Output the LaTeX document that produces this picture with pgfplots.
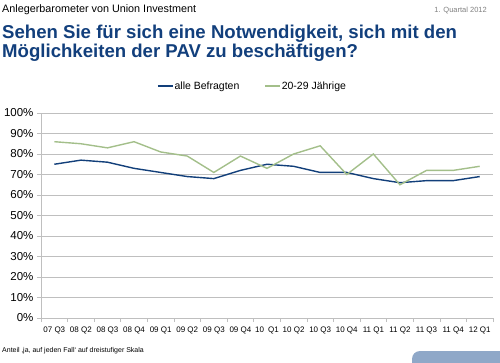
\documentclass[border=0pt]{standalone}
\usepackage{pgfplots}
\pgfplotsset{compat=1.18}
\usepackage{fontspec}
\setmainfont{Liberation Sans}
\definecolor{titleblue}{HTML}{123F7C}
\definecolor{lineblue}{HTML}{123F7A}
\definecolor{linegreen}{HTML}{A3BF8A}
\definecolor{gridgray}{HTML}{BFBFBF}
\definecolor{boxblue}{HTML}{8FA8C8}
\begin{document}
\begin{tikzpicture}
\path[use as bounding box] (0pt,0pt) rectangle (500pt,-363pt);
\node[anchor=base west,inner sep=0,font=\fontsize{10.8}{12}\selectfont] at (2pt,-12.7pt) {Anlegerbarometer von Union Investment};
\node[anchor=base east,inner sep=0,text=gray,font=\fontsize{7.5}{9}\selectfont] at (487pt,-12.5pt) {1. Quartal 2012};
\node[anchor=base west,inner sep=0,text=titleblue,font=\fontsize{18.6}{20}\bfseries\selectfont] at (2pt,-38.5pt) {Sehen Sie für sich eine Notwendigkeit, sich mit den};
\node[anchor=base west,inner sep=0,text=titleblue,font=\fontsize{18.6}{20}\bfseries\selectfont] at (2pt,-57.5pt) {Möglichkeiten der PAV zu beschäftigen?};
\node[anchor=base west,inner sep=0,font=\fontsize{7}{9}\selectfont] at (2pt,-352pt) {Anteil ‚ja, auf jeden Fall‘ auf dreistufiger Skala};
\fill[boxblue] (412pt,-363pt) -- (412pt,-359pt) arc[start angle=180,end angle=90,radius=8pt] -- (500pt,-351pt) -- (500pt,-363pt) -- cycle;
\begin{axis}[
  at={(41pt,-318pt)}, anchor=south west,
  scale only axis, width=452pt, height=205pt,
  xmin=-0.5, xmax=16.5, ymin=0, ymax=100,
  xtick={0,...,16},
  xticklabels={07 Q3,08 Q2,08 Q3,08 Q4,09 Q1,09 Q2,09 Q3,09 Q4,10\enspace Q1,10 Q2,10 Q3,10 Q4,11 Q1,11 Q2,11 Q3,11 Q4,12 Q1},
  minor xtick={-0.5,0.5,...,16.5},
  ytick={0,10,...,100},
  yticklabel={\pgfmathprintnumber{\tick}\%},
  /pgf/number format/assume math mode=true,
  ymajorgrids, major grid style={gridgray,line width=0.8pt},
  axis x line*=bottom, axis y line*=left,
  axis line style={gridgray,line width=0.8pt},
  x axis line style={-}, y axis line style={-},
  major x tick style={draw=none},
  minor x tick style={gridgray,line width=0.6pt},
  major y tick style={gridgray,line width=0.6pt},
  tick align=outside,
  minor tick length=4pt, major tick length=4pt,
  xticklabel style={font=\fontsize{8}{9}\selectfont, yshift=-1pt},
  yticklabel style={font=\fontsize{11.5}{13}\selectfont},
  legend style={at={(0.2566,1.1317)}, anchor=west, inner sep=0pt, draw=none, fill=none, legend columns=2, font=\fontsize{10.5}{12}\selectfont, nodes={inner xsep=1pt, inner ysep=1pt}, /tikz/every even column/.append style={column sep=24pt}},
  legend image code/.code={\draw[#1] (0pt,0pt) -- (15pt,0pt);},
  clip=false,
]
\addplot[lineblue, line width=1.4pt] coordinates {(0,75)(1,77)(2,76)(3,73)(4,71)(5,69)(6,68)(7,72)(8,75)(9,74)(10,71)(11,71)(12,68)(13,66)(14,67)(15,67)(16,69)};
\addlegendentry{alle Befragten}
\addplot[linegreen, line width=1.4pt] coordinates {(0,86)(1,85)(2,83)(3,86)(4,81)(5,79)(6,71)(7,79)(8,73)(9,80)(10,84)(11,70)(12,80)(13,65)(14,72)(15,72)(16,74)};
\addlegendentry{20-29 Jährige}
\end{axis}
\end{tikzpicture}
\end{document}
